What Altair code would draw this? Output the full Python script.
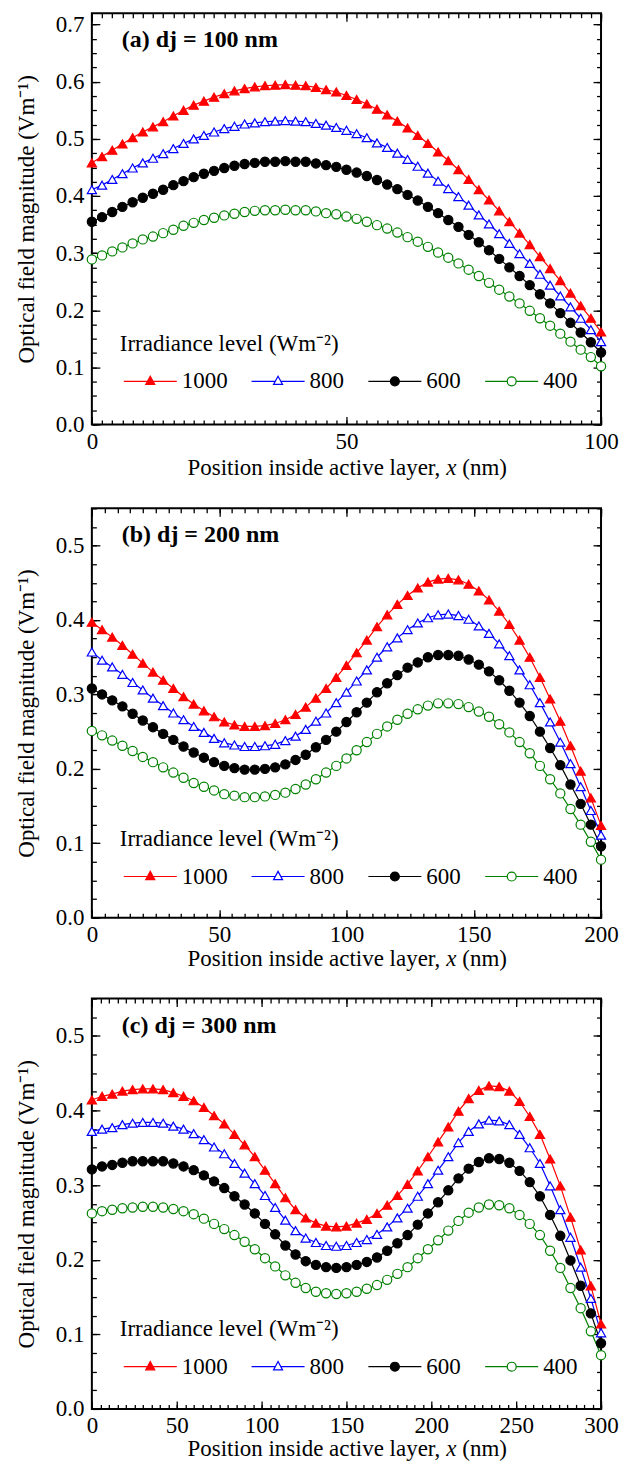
import altair as alt
import pandas as pd

FONT = "Liberation Serif"
SERIES = ["1000", "800", "600", "400"]
COLORS = ["#ff0000", "#0000ff", "#000000", "#008000"]
FILLS = ["#ff0000", "#ffffff", "#000000", "#ffffff"]
SHAPES = ["triangle-up", "triangle-up", "circle", "circle"]
LEG_PATHS = [
    "M-5.9,0H5.9M0,-1.15L1,0.7L-1,0.7Z",
    "M-5.9,0H-0.62M0.62,0H5.9M0,-1.15L1,0.7L-1,0.7Z",
    "M-5.9,0H5.9M1,0A1,1,0,1,1,-1,0A1,1,0,1,1,1,0Z",
    "M-5.9,0H-1M1,0H5.9M1,0A1,1,0,1,1,-1,0A1,1,0,1,1,1,0Z",
]

# ---------------- panel (a): dj = 100 nm ----------------
X_A = list(range(0, 101, 2))
A_1000 = [0.458, 0.469, 0.480, 0.491, 0.502, 0.512, 0.521, 0.530, 0.540, 0.550, 0.559, 0.566, 0.573,
          0.579, 0.584, 0.588, 0.591, 0.593, 0.594, 0.595, 0.594, 0.593, 0.590, 0.586, 0.582, 0.576,
          0.569, 0.561, 0.552, 0.542, 0.531, 0.519, 0.506, 0.492, 0.477, 0.462, 0.446, 0.429, 0.411,
          0.393, 0.374, 0.355, 0.335, 0.315, 0.294, 0.273, 0.252, 0.230, 0.208, 0.186, 0.162]
A_800 = [0.411, 0.419, 0.429, 0.439, 0.449, 0.458, 0.466, 0.474, 0.483, 0.492, 0.500, 0.506, 0.512,
         0.518, 0.522, 0.526, 0.528, 0.530, 0.531, 0.532, 0.531, 0.530, 0.527, 0.524, 0.520, 0.515,
         0.509, 0.502, 0.493, 0.485, 0.475, 0.464, 0.452, 0.440, 0.426, 0.413, 0.399, 0.384, 0.367,
         0.351, 0.334, 0.317, 0.299, 0.282, 0.263, 0.244, 0.225, 0.206, 0.186, 0.166, 0.145]
A_600 = [0.355, 0.363, 0.372, 0.381, 0.389, 0.397, 0.404, 0.411, 0.419, 0.426, 0.433, 0.439, 0.444,
         0.449, 0.453, 0.456, 0.458, 0.460, 0.460, 0.461, 0.460, 0.460, 0.457, 0.454, 0.451, 0.446,
         0.441, 0.435, 0.428, 0.420, 0.412, 0.402, 0.392, 0.381, 0.370, 0.358, 0.346, 0.332, 0.319,
         0.305, 0.290, 0.275, 0.260, 0.244, 0.228, 0.212, 0.195, 0.178, 0.161, 0.144, 0.126]
A_400 = [0.289, 0.296, 0.303, 0.310, 0.317, 0.324, 0.329, 0.335, 0.341, 0.348, 0.353, 0.358, 0.362,
         0.366, 0.369, 0.372, 0.374, 0.375, 0.375, 0.376, 0.375, 0.375, 0.373, 0.370, 0.368, 0.364,
         0.360, 0.355, 0.349, 0.343, 0.336, 0.328, 0.320, 0.311, 0.301, 0.292, 0.282, 0.271, 0.260,
         0.248, 0.236, 0.224, 0.212, 0.199, 0.186, 0.173, 0.159, 0.145, 0.131, 0.118, 0.102]

# ---------------- panel (b): dj = 200 nm ----------------
X_B = list(range(0, 201, 4))
B_1000 = [0.397, 0.387, 0.377, 0.366, 0.354, 0.342, 0.330, 0.319, 0.308, 0.297, 0.287, 0.278, 0.270,
          0.263, 0.259, 0.257, 0.257, 0.258, 0.261, 0.266, 0.273, 0.283, 0.295, 0.308, 0.323, 0.339,
          0.356, 0.373, 0.391, 0.407, 0.421, 0.433, 0.443, 0.451, 0.455, 0.456, 0.454, 0.448, 0.439,
          0.427, 0.412, 0.394, 0.373, 0.350, 0.323, 0.294, 0.264, 0.231, 0.197, 0.161, 0.124]
B_800 = [0.357, 0.346, 0.337, 0.327, 0.316, 0.306, 0.295, 0.285, 0.275, 0.266, 0.257, 0.249, 0.241,
         0.235, 0.232, 0.230, 0.230, 0.231, 0.233, 0.238, 0.244, 0.253, 0.264, 0.275, 0.289, 0.303,
         0.318, 0.333, 0.350, 0.364, 0.376, 0.387, 0.396, 0.403, 0.407, 0.408, 0.406, 0.401, 0.392,
         0.382, 0.368, 0.352, 0.333, 0.313, 0.289, 0.263, 0.236, 0.207, 0.176, 0.144, 0.111]
B_600 = [0.308, 0.300, 0.292, 0.284, 0.274, 0.265, 0.256, 0.247, 0.239, 0.230, 0.222, 0.215, 0.209,
         0.204, 0.201, 0.199, 0.199, 0.200, 0.202, 0.206, 0.212, 0.219, 0.229, 0.239, 0.250, 0.263,
         0.276, 0.289, 0.303, 0.315, 0.326, 0.336, 0.343, 0.350, 0.353, 0.353, 0.352, 0.347, 0.340,
         0.331, 0.319, 0.305, 0.289, 0.271, 0.250, 0.228, 0.205, 0.179, 0.153, 0.125, 0.096]
B_400 = [0.251, 0.245, 0.238, 0.231, 0.224, 0.216, 0.209, 0.202, 0.195, 0.188, 0.181, 0.176, 0.171,
         0.166, 0.164, 0.162, 0.162, 0.163, 0.165, 0.168, 0.173, 0.179, 0.186, 0.195, 0.204, 0.214,
         0.225, 0.236, 0.247, 0.257, 0.266, 0.274, 0.280, 0.285, 0.288, 0.288, 0.287, 0.283, 0.277,
         0.270, 0.260, 0.249, 0.236, 0.221, 0.204, 0.186, 0.167, 0.146, 0.125, 0.102, 0.078]

# ---------------- panel (c): dj = 300 nm ----------------
X_C = list(range(0, 301, 6))
C_1000 = [0.414, 0.419, 0.422, 0.426, 0.428, 0.429, 0.429, 0.428, 0.424, 0.419, 0.413, 0.404, 0.393,
          0.382, 0.368, 0.354, 0.338, 0.320, 0.302, 0.283, 0.267, 0.256, 0.249, 0.245, 0.244, 0.245,
          0.249, 0.254, 0.262, 0.273, 0.286, 0.301, 0.319, 0.338, 0.358, 0.378, 0.399, 0.416, 0.427,
          0.433, 0.432, 0.426, 0.412, 0.392, 0.368, 0.335, 0.299, 0.257, 0.213, 0.165, 0.114]
C_800 = [0.372, 0.375, 0.377, 0.381, 0.383, 0.384, 0.384, 0.383, 0.379, 0.375, 0.369, 0.361, 0.351,
         0.342, 0.329, 0.316, 0.302, 0.286, 0.270, 0.253, 0.239, 0.229, 0.223, 0.219, 0.218, 0.219,
         0.223, 0.227, 0.234, 0.244, 0.256, 0.269, 0.285, 0.302, 0.320, 0.338, 0.357, 0.372, 0.382,
         0.387, 0.386, 0.381, 0.368, 0.350, 0.329, 0.299, 0.267, 0.230, 0.190, 0.148, 0.102]
C_600 = [0.321, 0.325, 0.327, 0.330, 0.332, 0.332, 0.332, 0.332, 0.329, 0.325, 0.320, 0.313, 0.305,
         0.296, 0.285, 0.274, 0.262, 0.248, 0.234, 0.219, 0.207, 0.198, 0.193, 0.190, 0.189, 0.190,
         0.193, 0.197, 0.203, 0.212, 0.222, 0.233, 0.247, 0.262, 0.277, 0.293, 0.309, 0.322, 0.331,
         0.336, 0.335, 0.330, 0.319, 0.304, 0.285, 0.260, 0.232, 0.199, 0.165, 0.128, 0.088]
C_400 = [0.262, 0.265, 0.267, 0.269, 0.270, 0.271, 0.271, 0.270, 0.268, 0.265, 0.261, 0.255, 0.248,
         0.241, 0.233, 0.224, 0.214, 0.202, 0.191, 0.179, 0.169, 0.162, 0.157, 0.155, 0.154, 0.155,
         0.157, 0.161, 0.166, 0.173, 0.181, 0.190, 0.202, 0.214, 0.226, 0.239, 0.252, 0.263, 0.270,
         0.274, 0.273, 0.269, 0.260, 0.248, 0.233, 0.212, 0.189, 0.162, 0.135, 0.104, 0.072]

LABELS = ["(a) dj = 100 nm", "(b) dj = 200 nm", "(c) dj = 300 nm"]
Y_TITLE = "Optical field magnitude (Vm\u207b\u00b9)"
LEG_TITLE = "Irradiance level (Wm\u207b\u00b2)"
X_TITLE_PARTS = ["Position inside active layer,", "x", "(nm)"]

Y_MAJOR_A = [0.0, 0.1, 0.2, 0.3, 0.4, 0.5, 0.6, 0.7]
Y_MAJOR_BC = [0.0, 0.1, 0.2, 0.3, 0.4, 0.5]
Y_MINOR_A = [round(i * 0.025, 3) for i in range(0, 29)]
Y_MINOR_BC = [round(i * 0.025, 3) for i in range(0, 23)]


def long_df(xs, series_lists):
    rows = []
    for name, vals in zip(SERIES, series_lists):
        for x, v in zip(xs, vals):
            rows.append({"x": x, "v": v, "series": name})
    return pd.DataFrame(rows)


def tick_axis(orient, values, size, offset):
    return alt.Axis(orient=orient, values=values, tickSize=size, ticks=True, labels=False,
                    domain=False, grid=False, title=None, offset=offset,
                    tickColor="black", tickWidth=1.3)


def panel(df, W, H, xmax, ymax, xmaj, xmin, ymaj, ymin, label, title_dy):
    xs = alt.Scale(domain=[0, xmax], nice=False, zero=False)
    ys = alt.Scale(domain=[0, ymax], nice=False, zero=False)
    stroke_scale = alt.Scale(domain=SERIES, range=COLORS)
    fill_scale = alt.Scale(domain=SERIES, range=FILLS)
    base = alt.Chart(df)

    x_lab = alt.Axis(orient="bottom", values=xmaj, format="d", ticks=False, domain=False, grid=False,
                     labelFont=FONT, labelFontSize=23, labelColor="black", labelPadding=6,
                     labelFlush=False, title=None)
    y_lab = alt.Axis(orient="left", values=ymaj, format=".1f", ticks=False, domain=False, grid=False,
                     labelFont=FONT, labelFontSize=23, labelColor="black", labelPadding=8,
                     labelFlush=False,
                     title=Y_TITLE, titleFont=FONT, titleFontSize=23, titleFontWeight="normal",
                     titleColor="black", titlePadding=17)

    lines = base.mark_line(strokeWidth=1.2).encode(
        x=alt.X("x:Q", scale=xs, axis=x_lab),
        y=alt.Y("v:Q", scale=ys, axis=y_lab),
        stroke=alt.Stroke("series:N", scale=stroke_scale, legend=None),
    )
    points = base.mark_point(size=85, strokeWidth=1.2, opacity=1).encode(
        x=alt.X("x:Q", scale=xs, axis=tick_axis("top", xmaj, 8, -H)),
        y=alt.Y("v:Q", scale=ys, axis=tick_axis("right", ymaj, 8, -W)),
        stroke=alt.Stroke("series:N", scale=stroke_scale, legend=None),
        fill=alt.Fill("series:N", scale=fill_scale, legend=None),
        shape=alt.Shape("series:N", scale=alt.Scale(domain=SERIES, range=SHAPES), legend=None),
    )
    hidden = base.transform_filter("false").mark_point(opacity=0)
    minor_in = hidden.encode(
        x=alt.X("x:Q", scale=xs, axis=tick_axis("top", xmin, 4.5, -H)),
        y=alt.Y("v:Q", scale=ys, axis=tick_axis("right", ymin, 4.5, -W)),
    )
    major_opp = hidden.encode(
        x=alt.X("x:Q", scale=xs, axis=tick_axis("bottom", xmaj, 8, -H)),
        y=alt.Y("v:Q", scale=ys, axis=tick_axis("left", ymaj, 8, -W)),
    )
    minor_opp = hidden.encode(
        x=alt.X("x:Q", scale=xs, axis=tick_axis("bottom", xmin, 4.5, -H)),
        y=alt.Y("v:Q", scale=ys, axis=tick_axis("left", ymin, 4.5, -W)),
    )

    leg = alt.Legend(orient="none", legendX=28, legendY=320, direction="horizontal", columns=4,
                     title=LEG_TITLE, titleFont=FONT, titleFontSize=23, titleFontWeight="normal",
                     titleColor="black", titlePadding=14, titleAnchor="start", titleLimit=600,
                     labelFont=FONT, labelFontSize=23, labelColor="black", labelLimit=200,
                     labelOffset=20, symbolOffset=19, symbolSize=81, symbolStrokeWidth=1.2,
                     columnPadding=20, padding=0)
    legend_layer = base.transform_filter("false").mark_point(size=81, strokeWidth=1.2, opacity=1).encode(
        x=alt.X("x:Q", scale=xs, axis=None),
        y=alt.Y("v:Q", scale=ys, axis=None),
        stroke=alt.Stroke("series:N", scale=stroke_scale, legend=leg),
        fill=alt.Fill("series:N", scale=fill_scale, legend=leg),
        shape=alt.Shape("series:N", scale=alt.Scale(domain=SERIES, range=LEG_PATHS), legend=leg),
    )

    lab = alt.Chart(pd.DataFrame({"t": [label]})).mark_text(
        font=FONT, fontSize=24, fontWeight="bold", align="left", baseline="middle", color="black"
    ).encode(x=alt.value(30), y=alt.value(27), text="t:N")

    ty = H + title_dy
    xt1 = alt.Chart(pd.DataFrame({"t": [X_TITLE_PARTS[0]]})).mark_text(
        font=FONT, fontSize=23, align="right", baseline="middle", color="black"
    ).encode(x=alt.value(W / 2 + 94), y=alt.value(ty), text="t:N")
    xt2 = alt.Chart(pd.DataFrame({"t": [X_TITLE_PARTS[1]]})).mark_text(
        font=FONT, fontSize=23, fontStyle="italic", align="left", baseline="middle", color="black"
    ).encode(x=alt.value(W / 2 + 100), y=alt.value(ty), text="t:N")
    xt3 = alt.Chart(pd.DataFrame({"t": [X_TITLE_PARTS[2]]})).mark_text(
        font=FONT, fontSize=23, align="left", baseline="middle", color="black"
    ).encode(x=alt.value(W / 2 + 116), y=alt.value(ty), text="t:N")

    return alt.layer(
        lines, points, minor_in, major_opp, minor_opp, legend_layer, lab, xt1, xt2, xt3
    ).resolve_axis(x="independent", y="independent").resolve_scale(
        stroke="independent", fill="independent", shape="independent"
    ).properties(width=W, height=H)


pa = panel(long_df(X_A, [A_1000, A_800, A_600, A_400]), 510, 412, 100, 0.72,
           [0, 50, 100], list(range(0, 101, 2)), Y_MAJOR_A, Y_MINOR_A, LABELS[0], 44)
pb = panel(long_df(X_B, [B_1000, B_800, B_600, B_400]), 510, 410, 200, 0.55,
           [0, 50, 100, 150, 200], list(range(0, 201, 5)), Y_MAJOR_BC, Y_MINOR_BC, LABELS[1], 41)
pc = panel(long_df(X_C, [C_1000, C_800, C_600, C_400]), 510, 411, 300, 0.55,
           [0, 50, 100, 150, 200, 250, 300], list(range(0, 301, 5)), Y_MAJOR_BC, Y_MINOR_BC, LABELS[2], 40)

chart = alt.vconcat(pa, pb, pc, spacing=25).properties(
    padding={"left": 6, "top": 2, "right": 0, "bottom": 0}
).configure_view(stroke="black", strokeWidth=2).configure_axis(grid=False)

chart.save("out.html", embed_options={"renderer": "svg", "actions": False})
